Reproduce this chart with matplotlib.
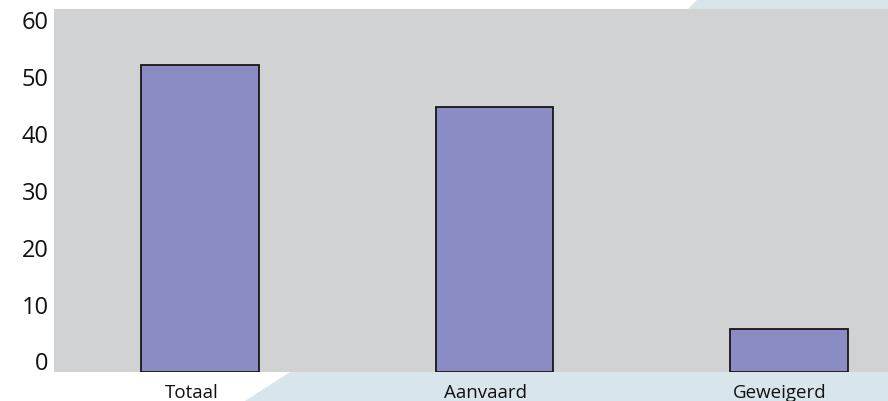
import matplotlib
matplotlib.use("Agg")
import matplotlib.pyplot as plt
from matplotlib.patches import Polygon
from matplotlib.transforms import ScaledTranslation

categories = ["Totaal", "Aanvaard", "Geweigerd"]
values = [54, 46.5, 7.5]
y_ticks = [0, 10, 20, 30, 40, 50, 60]

BAR_COLOR = "#8c8cc4"
PLOT_BG = "#d1d2d4"
BAND_COLOR = "#d8e6eb"

plt.rcParams["font.family"] = ["Open Sans", "DejaVu Sans"]

fig = plt.figure(figsize=(8.88, 4.01), dpi=100)
W, H = 888, 401

# light blue diagonal band behind the plot (pixel coordinates)
band = Polygon(
    [(245, 0), (290, 29), (688, 392), (697, 401), (888, 401), (888, 0)],
    closed=True, transform=None, facecolor=BAND_COLOR, edgecolor="none", zorder=0,
)
fig.patches.append(band)

ax = fig.add_axes([54 / W, 29 / H, (888 - 54) / W, (372 - 9) / H])
ax.set_facecolor(PLOT_BG)
ax.set_zorder(1)

x = list(range(len(categories)))
ax.bar(x, values, width=0.401, color=BAR_COLOR, edgecolor="#161616", linewidth=1.3)

ax.set_xlim(-0.498, 2.338)
ax.set_ylim(0, 63.8)

for s in ax.spines.values():
    s.set_visible(False)

ax.set_yticks(y_ticks)
ax.set_yticklabels([str(t) for t in y_ticks], fontsize=17, color="#111111",
                   va="baseline")
ax.tick_params(axis="y", length=0, pad=4)
up = ScaledTranslation(0, 1.5 / 100, fig.dpi_scale_trans)
for lbl in ax.get_yticklabels():
    lbl.set_transform(lbl.get_transform() + up)

ax.set_xticks(x)
ax.set_xticklabels(categories, fontsize=13.5, color="#111111")
ax.tick_params(axis="x", length=0, pad=9)
shift = ScaledTranslation(-9 / 100, 0, fig.dpi_scale_trans)
for lbl in ax.get_xticklabels():
    lbl.set_transform(lbl.get_transform() + shift)

fig.savefig("out.png", dpi=100)
